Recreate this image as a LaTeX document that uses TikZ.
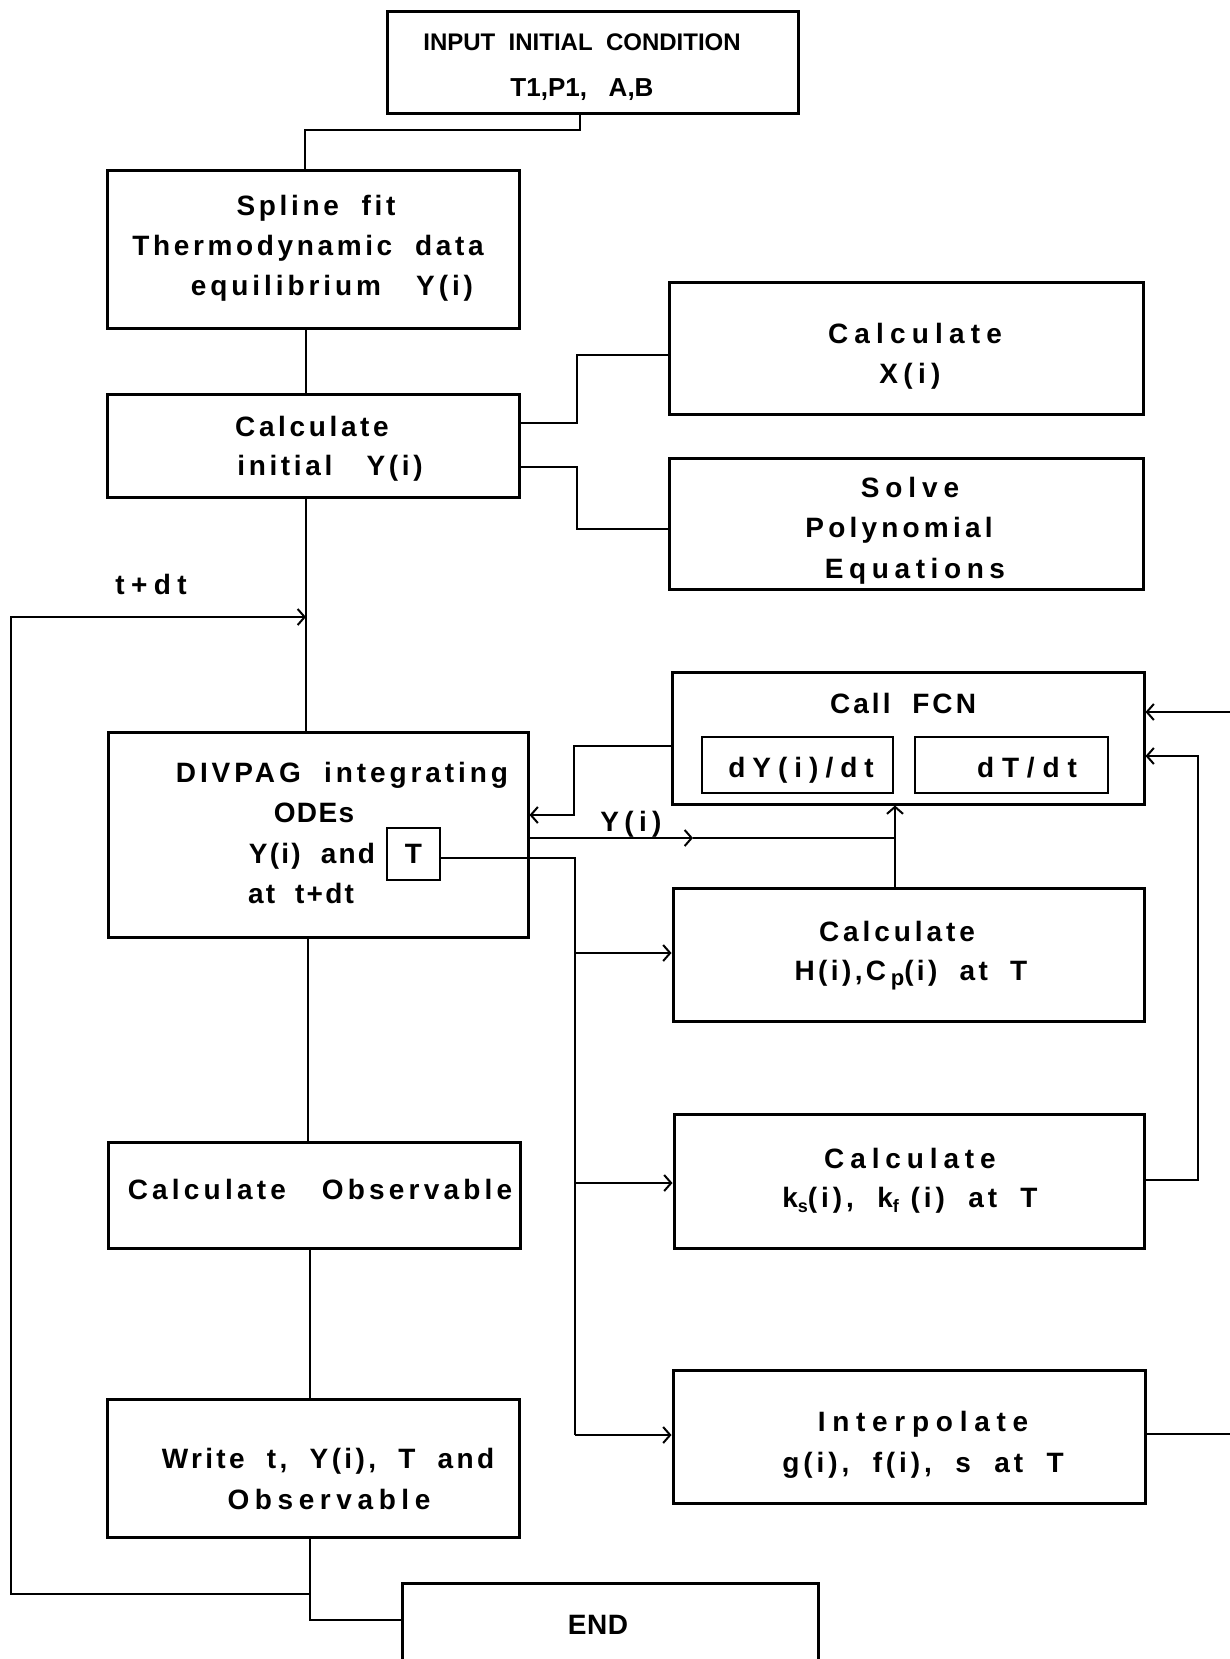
\documentclass[tikz,border=0pt]{standalone}
\usepackage{fontspec}
\setmainfont{Liberation Sans}
\usetikzlibrary{arrows.meta}

% lowered small letter used for subscripts in the labels
\newcommand\lowsub[2][18]{\raisebox{-5pt}{\fontsize{#1}{#1}\selectfont #2}}

\tikzset{
  x=1pt, y=-1pt,
  box/.style={draw, line width=3pt, rectangle, inner sep=0pt},
  inbox/.style={draw, line width=2.4pt, rectangle, inner sep=0pt},
  conn/.style={line width=2pt},
  arr/.style={-{Straight Barb[length=7pt,width=16pt,line width=2pt]}},
  txt/.style={anchor=base, inner sep=0pt,
    font=\fontsize{28}{34}\selectfont\bfseries\addfontfeatures{LetterSpace=#1}},
  txt/.default=13,
  small/.style={anchor=base, inner sep=0pt,
    font=\fontsize{#1}{#1}\selectfont\bfseries},
}

\begin{document}
\begin{tikzpicture}
\useasboundingbox (0,0) rectangle (1230,1659);
\fill[white] (0,0) rectangle (1230,1659);
\clip (0,0) rectangle (1230,1659);

% ---------- boxes ----------
\node[box, minimum width=411pt, minimum height=102pt] (input)   at (592.5,63) {};
\node[box, minimum width=412pt, minimum height=158pt] (spline)  at (313,249) {};
\node[box, minimum width=412pt, minimum height=103pt] (calcinit) at (313,445.5) {};
\node[box, minimum width=474pt, minimum height=132pt] (calcX)   at (906,348) {};
\node[box, minimum width=474pt, minimum height=131pt] (solve)   at (906,523.5) {};
\node[box, minimum width=472pt, minimum height=132pt] (callfcn) at (908,738) {};
\node[inbox, minimum width=191pt, minimum height=56pt] (dybox)  at (797.5,765) {};
\node[inbox, minimum width=193pt, minimum height=56pt] (dtbox)  at (1011.5,765) {};
\node[box, minimum width=420pt, minimum height=205pt] (divpag)  at (318,834.5) {};
\node[inbox, minimum width=53pt, minimum height=52pt] (tbox)    at (413.5,854) {};
\node[box, minimum width=471pt, minimum height=133pt] (calcH)   at (908.5,954.5) {};
\node[box, minimum width=470pt, minimum height=134pt] (calck)   at (909,1181) {};
\node[box, minimum width=472pt, minimum height=133pt] (interp)  at (909,1436.5) {};
\node[box, minimum width=412pt, minimum height=106pt] (calcobs) at (314,1195) {};
\node[box, minimum width=412pt, minimum height=138pt] (write)   at (313,1468) {};
\node[box, minimum width=416pt, minimum height=107pt] (endbox)  at (610,1636.5) {};

% ---------- texts ----------
\node[small=24] (in1) at (582,51) {INPUT~~INITIAL~~CONDITION};
\node[small=26] (in2) at (582,97) {T1,P1,~~~A,B};

\node[txt=13] (sp1) at (316,215) {Spline~~fit};
\node[txt=13] (sp2) at (308,255) {Thermodynamic~~data};
\node[txt=14] (sp3) at (332,295) {equilibrium~~~Y(i)};

\node[txt=13] (ci1) at (312,436) {Calculate};
\node[txt=13] (ci2) at (330,475) {initial~~~Y(i)};

\node[txt=22] (cx1) at (915,343) {Calculate};
\node[txt=19] (cx2) at (910,383) {X(i)};

\node[txt=21] (so1) at (910,497) {Solve};
\node[txt=15] (so2) at (899,537) {Polynomial};
\node[txt=20] (so3) at (915,578) {Equations};

\node[txt=23] (tdt) at (151,594) {t+dt};

\node[txt=14] (dv1) at (342,782) {DIVPAG~~integrating};
\node[txt=5]  (dv2) at (314,822) {ODEs};
\node[txt=8]  (dv3) at (312,863) {Y(i)~~and};
\node[txt=0]  (dv4) at (413.5,863) {T};
\node[txt=8]  (dv5) at (301,903) {at~~t+dt};

\node[txt=11] (cf1) at (903,713) {Call~~FCN};
\node[txt=25] (cf2) at (801,777) {dY(i)/dt};
\node[txt=28] (cf3) at (1027,777) {dT/dt};

\node[txt=19] (ylab) at (631,831) {Y(i)};

\node[txt=14] (ch1) at (897,941) {Calculate};
\node[txt=12] (ch2) at (911,980) {H(i),C\,\lowsub[22]{p}(i)~~at~~T};

\node[txt=21] (ck1) at (910,1168) {Calculate};
\node[txt=14] (ck2) at (910,1207) {k\lowsub{s}(i),~~k\lowsub{f}~(i)~~at~~T};

\node[txt=24] (ip1) at (923,1431) {Interpolate};
\node[txt=14] (ip2) at (923,1472) {g(i),~~f(i),~~s~~at~~T};

\node[txt=15] (co1) at (320,1199) {Calculate~~~Observable};

\node[txt=12] (wr1) at (328,1468) {Write~~t,~~Y(i),~~T~~and};
\node[txt=20] (wr2) at (329,1509) {Observable};

\node[txt=2] (en1) at (598,1634) {END};

% ---------- connectors ----------
\draw[conn] (input.south -| 580,0) -- (580,130) -| (spline.north -| 305,0);
\draw[conn] (spline.south -| 306,0) -- (calcinit.north -| 306,0);
\draw[conn] (calcinit.east |- 0,423) -- (577,423) |- (calcX.west |- 0,355);
\draw[conn] (calcinit.east |- 0,467) -- (577,467) |- (solve.west |- 0,529);
\draw[conn] (calcinit.south -| 306,0) -- (divpag.north -| 306,0);
\draw[conn] (divpag.south -| 308,0) -- (calcobs.north -| 308,0);
\draw[conn] (calcobs.south -| 310,0) -- (write.north -| 310,0);

% loop back for the next time step
\coordinate (loopjoin) at (310,1594);
\draw[conn] (write.south -| 310,0) -- (310,1620) -- (endbox.west |- 0,1620);
\draw[conn, arr] (loopjoin) -- (11,1594) -- (11,617) -- (306,617);

% FCN feedback and the Y(i) feed
\draw[conn, arr] (callfcn.west |- 0,746) -- (574,746) -- (574,815) -- (divpag.east |- 0,815);
\coordinate (yjoin) at (895,838);
\draw[conn, arr] (divpag.east |- 0,838) -- (693,838);
\draw[conn] (693,838) -- (yjoin);
\draw[conn, arr] (calcH.north -| yjoin) -- (callfcn.south -| yjoin);

% T distribution bus
\coordinate (tbus) at (575,858);
\draw[conn] (tbox.east |- tbus) -- (tbus) -- (575,1435);
\draw[conn, arr] (575,953)  -- (calcH.west |- 0,953);
\draw[conn, arr] (575,1183) -- (calck.west |- 0,1183);
\draw[conn, arr] (575,1435) -- (interp.west |- 0,1435);

% returns into FCN
\draw[conn, arr] (calck.east |- 0,1180) -- (1198,1180) -- (1198,756) -- (callfcn.east |- 0,756);
\coordinate (rimA) at (1230,712);
\coordinate (rimB) at (1230,1434);
\draw[conn, arr] (rimA) -- (callfcn.east |- rimA);
\draw[conn] (interp.east |- rimB) -- (rimB);
\end{tikzpicture}
\end{document}
